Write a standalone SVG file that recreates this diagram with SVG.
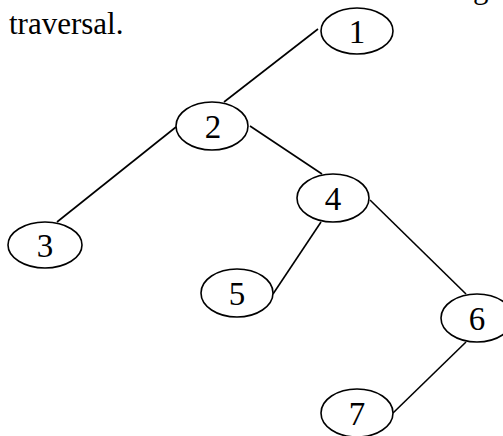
<svg xmlns="http://www.w3.org/2000/svg" width="503" height="436" viewBox="0 0 503 436">
<style>
.n ellipse{fill:#fff;stroke:#000;stroke-width:1.6}
.n text{font-family:"Liberation Serif","Times New Roman",serif;font-size:33px;fill:#000;text-anchor:middle}
.e line{stroke:#000;stroke-width:1.6}
.t{font-family:"Liberation Serif","Times New Roman",serif;font-size:31px;fill:#000}
</style>
<rect width="503" height="436" fill="#fff"/>
<text class="t" x="473" y="-2">g</text>
<text class="t" x="9" y="34">traversal.</text>
<g class="e" id="edges">
<line x1="318" y1="29" x2="224" y2="102"/>
<line x1="176" y1="127" x2="57" y2="222"/>
<line x1="250" y1="126" x2="322" y2="174"/>
<line x1="321" y1="222" x2="273" y2="294"/>
<line x1="370" y1="200" x2="466" y2="294"/>
<line x1="466" y1="342" x2="393" y2="413"/>
</g>
<g class="n" id="n1"><ellipse cx="357" cy="31" rx="36" ry="23"/><text x="357" y="43">1</text></g>
<g class="n" id="n2"><ellipse cx="212" cy="126" rx="36" ry="24"/><text x="213" y="138">2</text></g>
<g class="n" id="n3"><ellipse cx="45" cy="245" rx="37" ry="23"/><text x="45" y="257">3</text></g>
<g class="n" id="n4"><ellipse cx="333" cy="198" rx="36" ry="24"/><text x="333" y="210">4</text></g>
<g class="n" id="n5"><ellipse cx="237" cy="293" rx="36" ry="24"/><text x="237" y="305">5</text></g>
<g class="n" id="n6"><ellipse cx="477" cy="318" rx="36" ry="24"/><text x="477" y="330">6</text></g>
<g class="n" id="n7"><ellipse cx="357" cy="413" rx="36" ry="24"/><text x="357" y="425">7</text></g>
</svg>
